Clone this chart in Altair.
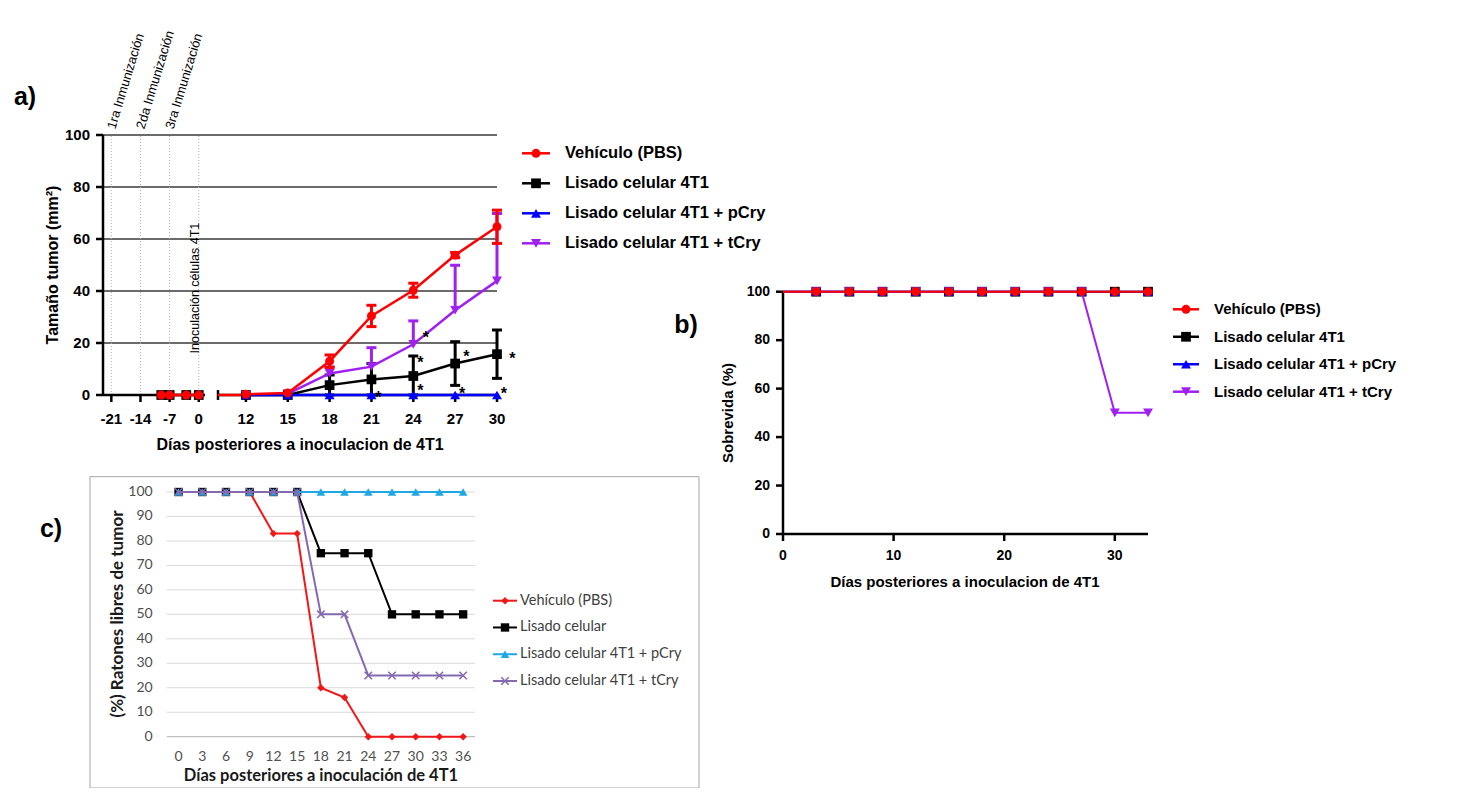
import altair as alt
import pandas as pd

W, H = 1440, 780
ARIAL = "Liberation Sans"
EXCEL = "Lato"

# ======================= Panel a) tumour size =======================
a_series = ["Vehículo (PBS)", "Lisado celular 4T1",
            "Lisado celular 4T1 + pCry", "Lisado celular 4T1 + tCry"]
a_colors = ["#FF0000", "#000000", "#0000FF", "#A020F0"]
a_shapes = ["circle", "square", "triangle-up", "triangle-down"]
a_sizes = [80, 95, 100, 100]
a_days_pre = [-9, -7, -3, 0]
a_days_post = [12, 15, 18, 21, 24, 27, 30]
a_veh_pre = [0, 0, 0, 0]
a_veh_post = [0.3, 0.8, 13.0, 30.4, 40.3, 53.8, 64.7]
a_veh_err = [0, 0, 2.4, 4.1, 2.7, 1.0, 6.4]
a_lis_pre = [0, 0, 0, 0]
a_lis_post = [0, 0, 3.8, 6.0, 7.3, 12.1, 15.7]
a_lis_err = [0, 0, 3.9, 6.1, 7.7, 8.4, 9.3]
a_pcry_post = [0, 0, 0, 0, 0, 0, 0]
a_tcry_post = [0, 0.5, 8.3, 10.9, 19.5, 32.6, 43.9]
a_tcry_err_up = [0, 0, 2.5, 7.3, 9.0, 17.3, 25.9]
a_x_ticks = [-21, -14, -7, 0, 12, 15, 18, 21, 24, 27, 30]
a_x_labels = ["-21", "-14", "-7", "0", "12", "15", "18", "21", "24", "27", "30"]
a_y_ticks = [0, 20, 40, 60, 80, 100]
a_grid = [20, 40, 60, 80, 100]
a_event_days = [-21, -14, -7, 0]
a_event_labels = ["1ra Inmunización", "2da Inmunización", "3ra Inmunización"]
a_inoc_label = "Inoculación células 4T1"
a_star_x = [21.5, 24.5, 24.5, 24.9, 27.8, 27.5, 31.1, 30.5]
a_star_y = [0.4, 3.0, 13.7, 23.4, 16.2, 1.9, 15.2, 1.9]
a_axis_from = [-23, 10]
a_axis_to = [1.5, 30]
a_xtitle = "Días posteriores a inoculacion de 4T1"
a_ytitle = "Tamaño tumor (mm²)"

# ======================= Panel b) survival =======================
b_days = [0, 3, 6, 9, 12, 15, 18, 21, 24, 27, 30, 33]
b_veh = [100] * 12
b_lis = [100] * 12
b_pcry = [100] * 12
b_tcry = [100, 100, 100, 100, 100, 100, 100, 100, 100, 100, 50, 50]
b_x_ticks = [0, 10, 20, 30]
b_y_ticks = [0, 20, 40, 60, 80, 100]
b_xmax = 33
b_xtitle = "Días posteriores a inoculacion de 4T1"
b_ytitle = "Sobrevida (%)"

# ======================= Panel c) tumour-free mice =======================
c_series = ["Vehículo (PBS)", "Lisado celular",
            "Lisado celular 4T1 + pCry", "Lisado celular 4T1 + tCry"]
c_colors = ["#F01818", "#000000", "#1FA8E4", "#8468B0"]
c_shapes = ["diamond", "square", "triangle-up", "M-1,-1L1,1M-1,1L1,-1"]
c_sizes = [55, 70, 75, 55]
c_filled = [True, True, True, False]
c_days = [0, 3, 6, 9, 12, 15, 18, 21, 24, 27, 30, 33, 36]
c_veh = [100, 100, 100, 100, 83, 83, 20, 16, 0, 0, 0, 0, 0]
c_lis = [100, 100, 100, 100, 100, 100, 75, 75, 75, 50, 50, 50, 50]
c_pcry = [100] * 13
c_tcry = [100, 100, 100, 100, 100, 100, 50, 50, 25, 25, 25, 25, 25]
c_y_ticks = [0, 10, 20, 30, 40, 50, 60, 70, 80, 90, 100]
c_xlim = [-1.5, 37.5]
c_xtitle = "Días posteriores a inoculación de 4T1"
c_ytitle = "(%) Ratones libres de tumor"


def feq(field, value):
    return alt.FieldEqualPredicate(field=field, equal=value)


def text_at(t, x, y, size, weight="bold", angle=0, font=ARIAL, color="black"):
    return alt.Chart(pd.DataFrame({"t": [t]})).mark_text(
        font=font, fontSize=size, fontWeight=weight, angle=angle, align="center",
        baseline="middle", color=color).encode(x=alt.value(x), y=alt.value(y), text="t:N")


def axis_marks(X, Y, xpos, ypos, xticks, xlabels, yticks, ylabels, font, size, weight, color,
               ticks=True, x_dy=22, y_dx=-13):
    """Tick marks and tick labels drawn through the panel's own scales."""
    out = []
    dfx = pd.DataFrame({"v": xticks, "lab": xlabels, "p": ypos})
    dfy = pd.DataFrame({"v": yticks, "lab": ylabels, "p": xpos})
    if ticks:
        out.append(alt.Chart(dfx).mark_tick(orient="vertical", size=7, thickness=2.5, color="black",
                                            opacity=1, yOffset=3.5).encode(x=X("v"), y=Y("p")))
        out.append(alt.Chart(dfy).mark_tick(orient="horizontal", size=7, thickness=2.5, color="black",
                                            opacity=1, xOffset=-3.5).encode(x=X("p"), y=Y("v")))
    out.append(alt.Chart(dfx).mark_text(align="center", baseline="middle", dy=x_dy, font=font,
                                        fontSize=size, fontWeight=weight, color=color).encode(
        x=X("v"), y=Y("p"), text="lab:N"))
    out.append(alt.Chart(dfy).mark_text(align="right", baseline="middle", dx=y_dx, font=font,
                                        fontSize=size, fontWeight=weight, color=color).encode(
        x=X("p"), y=Y("v"), text="lab:N"))
    return out


# ---------------------------------------------------------------- panel a
xa_scale = alt.Scale(domain=[-23, 1.5, 10, 30], range=[95, 197, 210, 489], zero=False, nice=False)
ya_scale = alt.Scale(domain=[0, 100], range=[387, 127], zero=False, nice=False)


def XA(f):
    return alt.X(f, type="quantitative", scale=xa_scale, axis=None)


def YA(f):
    return alt.Y(f, type="quantitative", scale=ya_scale, axis=None)


rows = []
for name, pre, post in [(a_series[0], a_veh_pre, a_veh_post), (a_series[1], a_lis_pre, a_lis_post),
                        (a_series[2], None, a_pcry_post), (a_series[3], None, a_tcry_post)]:
    if pre is not None:
        for d, v in zip(a_days_pre, pre):
            rows.append(dict(series=name, day=d, value=v, seg="pre"))
    for d, v in zip(a_days_post, post):
        rows.append(dict(series=name, day=d, value=v, seg="post"))
df_a = pd.DataFrame(rows)

err_rows = []
for d, v, e in zip(a_days_post, a_veh_post, a_veh_err):
    if e > 0:
        err_rows.append(dict(series=a_series[0], day=d, lo=v - e, hi=v + e, two=1))
for d, v, e in zip(a_days_post, a_lis_post, a_lis_err):
    if e > 0:
        err_rows.append(dict(series=a_series[1], day=d, lo=max(0, v - e), hi=v + e, two=1))
for d, v, e in zip(a_days_post, a_tcry_post, a_tcry_err_up):
    if e > 0:
        err_rows.append(dict(series=a_series[3], day=d, lo=v, hi=v + e, two=0))
df_a_err = pd.DataFrame(err_rows)

a_layers = []
df_grid_a = pd.DataFrame({"y": a_grid, "x0": a_axis_from[0], "x1": a_axis_to[1]})
a_layers.append(alt.Chart(df_grid_a).mark_rule(color="#3a3a3a", strokeWidth=1.5).encode(
    x=XA("x0"), x2="x1:Q", y=YA("y")))
df_ev = pd.DataFrame({"day": a_event_days, "y0": 0, "y1": 100})
a_layers.append(alt.Chart(df_ev).mark_rule(color="#b0b0b0", strokeWidth=1, strokeDash=[1, 2]).encode(
    x=XA("day"), y=YA("y0"), y2="y1:Q"))
# broken x-axis line and y-axis line
df_ax = pd.DataFrame({"x0": a_axis_from, "x1": a_axis_to, "y": 0})
a_layers.append(alt.Chart(df_ax).mark_rule(color="black", strokeWidth=2.5).encode(
    x=XA("x0"), x2="x1:Q", y=YA("y")))
df_yax = pd.DataFrame({"x": [a_axis_from[0]], "y0": [0], "y1": [100]})
a_layers.append(alt.Chart(df_yax).mark_rule(color="black", strokeWidth=2.5).encode(
    x=XA("x"), y=YA("y0"), y2="y1:Q"))
df_brk = pd.DataFrame({"x": [a_axis_from[1]], "y0": [-1.9], "y1": [1.9]})
a_layers.append(alt.Chart(df_brk).mark_rule(color="black", strokeWidth=2.5).encode(
    x=XA("x"), y=YA("y0"), y2="y1:Q"))
a_layers += axis_marks(XA, YA, a_axis_from[0], 0, a_x_ticks, a_x_labels, a_y_ticks,
                       [str(v) for v in a_y_ticks], ARIAL, 15, "bold", "black", True, 24, -13)
# clipped connection of the vehicle line after the break
df_conn = pd.DataFrame({"x0": [a_axis_from[1]], "x1": [a_days_post[0]], "y": [0]})
a_layers.append(alt.Chart(df_conn).mark_rule(color=a_colors[0], strokeWidth=2.5).encode(
    x=XA("x0"), x2="x1:Q", y=YA("y")))

for idx in [1, 3, 2, 0]:
    name, color, shape, size = a_series[idx], a_colors[idx], a_shapes[idx], a_sizes[idx]
    base = alt.Chart(df_a).transform_filter(feq("series", name))
    a_layers.append(base.mark_line(color=color, strokeWidth=2.5).encode(
        x=XA("day"), y=YA("value"), detail="seg:N"))
    e = df_a_err[df_a_err.series == name]
    if len(e):
        a_layers.append(alt.Chart(e).mark_rule(color=color, strokeWidth=3).encode(
            x=XA("day"), y=YA("lo"), y2="hi:Q"))
        a_layers.append(alt.Chart(e).mark_tick(orient="horizontal", size=10, thickness=3, color=color,
                                               opacity=1).encode(x=XA("day"), y=YA("hi")))
        e2 = e[e.two == 1]
        if len(e2):
            a_layers.append(alt.Chart(e2).mark_tick(orient="horizontal", size=10, thickness=3, color=color,
                                                    opacity=1).encode(x=XA("day"), y=YA("lo")))
    a_layers.append(base.mark_point(shape=shape, size=size, filled=True, color=color, opacity=1).encode(
        x=XA("day"), y=YA("value")))

df_evt = pd.DataFrame({"day": a_event_days[:3], "y": 102.5, "label": a_event_labels})
a_layers.append(alt.Chart(df_evt).mark_text(angle=287, align="left", baseline="middle", font=ARIAL,
                                            fontSize=13, color="black").encode(
    x=XA("day"), y=YA("y"), text="label:N"))
df_inoc = pd.DataFrame({"day": [a_event_days[3]], "y": [16], "label": [a_inoc_label]})
a_layers.append(alt.Chart(df_inoc).mark_text(angle=270, align="left", baseline="alphabetic", font=ARIAL,
                                             fontSize=12.5, color="black").encode(
    x=XA("day"), y=YA("y"), text="label:N"))
df_star = pd.DataFrame({"x": a_star_x, "y": a_star_y, "s": "*"})
a_layers.append(alt.Chart(df_star).mark_text(align="center", baseline="middle", dy=4, font=ARIAL,
                                             fontSize=16, fontWeight="bold", color="black").encode(
    x=XA("x"), y=YA("y"), text="s:N"))
panel_a = alt.layer(*a_layers)

# ---------------------------------------------------------------- panel b
xb_scale = alt.Scale(domain=[0, b_xmax], range=[775, 1140], zero=False, nice=False)
yb_scale = alt.Scale(domain=[0, 100], range=[526, 283.7], zero=False, nice=False)


def XB(f):
    return alt.X(f, type="quantitative", scale=xb_scale, axis=None)


def YB(f):
    return alt.Y(f, type="quantitative", scale=yb_scale, axis=None)


brows = []
for name, vals in zip(a_series, [b_veh, b_lis, b_pcry, b_tcry]):
    for d, v in zip(b_days, vals):
        brows.append(dict(series=name, day=d, value=v))
df_b = pd.DataFrame(brows)

b_layers = []
df_bx = pd.DataFrame({"x0": [0], "x1": [b_xmax], "y": [0]})
b_layers.append(alt.Chart(df_bx).mark_rule(color="black", strokeWidth=2.5).encode(
    x=XB("x0"), x2="x1:Q", y=YB("y")))
df_by = pd.DataFrame({"x": [0], "y0": [0], "y1": [100]})
b_layers.append(alt.Chart(df_by).mark_rule(color="black", strokeWidth=2.5).encode(
    x=XB("x"), y=YB("y0"), y2="y1:Q"))
b_layers += axis_marks(XB, YB, 0, 0, b_x_ticks, [str(v) for v in b_x_ticks], b_y_ticks,
                       [str(v) for v in b_y_ticks], ARIAL, 14, "bold", "black", True, 22, -13)
for idx in [1, 2, 3, 0]:
    name, color, shape, size = a_series[idx], a_colors[idx], a_shapes[idx], a_sizes[idx]
    base = alt.Chart(df_b).transform_filter(feq("series", name))
    b_layers.append(base.mark_line(color=color, strokeWidth=2).encode(x=XB("day"), y=YB("value")))
    b_layers.append(base.transform_filter(alt.datum.day >= b_days[1]).mark_point(
        shape=shape, size=size, filled=True, color=color, opacity=1).encode(x=XB("day"), y=YB("value")))
panel_b = alt.layer(*b_layers)

# ---------------------------------------------------------------- panel c
xc_scale = alt.Scale(domain=c_xlim, range=[158.7, 467], zero=False, nice=False)
yc_scale = alt.Scale(domain=[0, 100], range=[728.7, 484], zero=False, nice=False)


def XC(f):
    return alt.X(f, type="quantitative", scale=xc_scale, axis=None)


def YC(f):
    return alt.Y(f, type="quantitative", scale=yc_scale, axis=None)


c_layers = []
df_grid_c = pd.DataFrame({"y": c_y_ticks[1:], "x0": c_xlim[0], "x1": c_xlim[1]})
c_layers.append(alt.Chart(df_grid_c).mark_rule(color="#d9d9d9", strokeWidth=1).encode(
    x=XC("x0"), x2="x1:Q", y=YC("y")))
df_ax_c = pd.DataFrame({"y": [0], "x0": [c_xlim[0]], "x1": [c_xlim[1]]})
c_layers.append(alt.Chart(df_ax_c).mark_rule(color="#bfbfbf", strokeWidth=1.2).encode(
    x=XC("x0"), x2="x1:Q", y=YC("y")))
c_layers += axis_marks(XC, YC, c_xlim[0], 0, c_days, [str(v) for v in c_days], c_y_ticks,
                       [str(v) for v in c_y_ticks], EXCEL, 14, "normal", "#505050", False, 20, -14)
crows = []
for name, vals in zip(c_series, [c_veh, c_lis, c_pcry, c_tcry]):
    for d, v in zip(c_days, vals):
        crows.append(dict(series=name, day=d, value=v))
df_c = pd.DataFrame(crows)
for name, color, shape, size, filled in zip(c_series, c_colors, c_shapes, c_sizes, c_filled):
    base = alt.Chart(df_c).transform_filter(feq("series", name))
    c_layers.append(base.mark_line(color=color, strokeWidth=2).encode(x=XC("day"), y=YC("value")))
    c_layers.append(base.mark_point(shape=shape, size=size, filled=filled, color=color, opacity=1,
                                    strokeWidth=1.5).encode(x=XC("day"), y=YC("value")))
panel_c = alt.layer(*c_layers)


# ---------------------------------------------------------------- legends
def legend(names, colors, shapes, sizes, filled, y_range, xl0, xl1, xm, xt,
           font, fsize, weight, tcolor, lw):
    df = pd.DataFrame({"label": names})
    Y = alt.Y("label:N", scale=alt.Scale(type="point", domain=names, range=y_range, padding=0), axis=None)
    layers = []
    for n, c, s, sz, f in zip(names, colors, shapes, sizes, filled):
        b = alt.Chart(df).transform_filter(feq("label", n))
        layers.append(b.mark_rule(color=c, strokeWidth=lw).encode(x=alt.value(xl0), x2=alt.value(xl1), y=Y))
        layers.append(b.mark_point(shape=s, size=sz, filled=f, color=c, opacity=1, strokeWidth=1.5).encode(
            x=alt.value(xm), y=Y))
    layers.append(alt.Chart(df).mark_text(align="left", baseline="middle", font=font, fontSize=fsize,
                                          fontWeight=weight, color=tcolor).encode(
        x=alt.value(xt), y=Y, text="label:N"))
    return alt.layer(*layers)


legend_a = legend(a_series, a_colors, a_shapes, a_sizes, [True] * 4, [145.3, 235.3],
                  514, 542, 528, 557, ARIAL, 16.5, "bold", "black", 2.5)
legend_b = legend(a_series, a_colors, a_shapes, a_sizes, [True] * 4, [301.3, 383.7],
                  1165, 1191, 1178, 1206, ARIAL, 15, "bold", "black", 2.5)
legend_c = legend(c_series, c_colors, c_shapes, c_sizes, c_filled, [592.7, 673],
                  485, 509, 497, 512, EXCEL, 14.5, "normal", "#404040", 2)

# ---------------------------------------------------------------- titles, letters, frame
titles = [
    text_at(a_xtitle, 292, 437, 16),
    text_at(a_ytitle, 45, 257, 16, angle=270),
    text_at(b_xtitle, 957, 573.5, 15),
    text_at(b_ytitle, 720, 405, 15, angle=270),
    text_at(c_xtitle, 313, 768, 16.5, font=EXCEL, color="#1a1a1a"),
    text_at(c_ytitle, 110, 606, 17, angle=270, font=EXCEL, color="#1a1a1a"),
    text_at("a)", 17, 89, 25),
    text_at("b)", 678, 317, 25),
    text_at("c)", 43, 521, 25),
]

frame_c = alt.Chart(pd.DataFrame({"k": [0]})).mark_rect(
    fillOpacity=0, stroke="#a6a6a6", strokeWidth=1
).encode(x=alt.value(82), x2=alt.value(691), y=alt.value(468.7), y2=alt.value(H))

chart = alt.layer(
    frame_c, panel_a, legend_a, panel_b, legend_b, panel_c, legend_c, *titles
).resolve_scale(x="independent", y="independent").properties(
    width=W, height=H, padding=0, autosize=alt.AutoSizeParams(type="none"), background="white"
).configure_view(stroke=None)

chart.save("out.html", embed_options={"renderer": "svg", "actions": False})
